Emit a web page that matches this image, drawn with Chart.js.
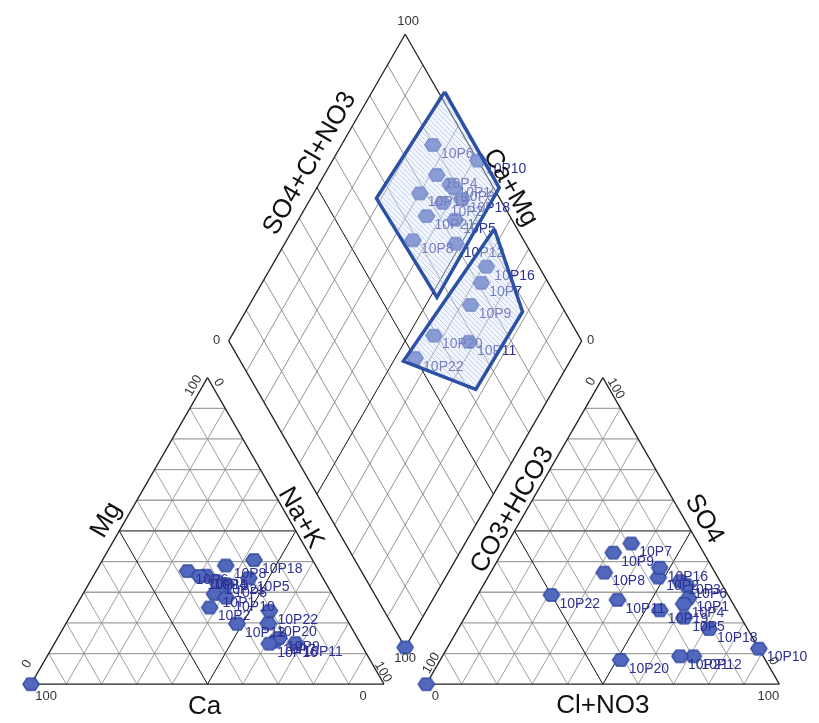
<!DOCTYPE html>
<html>
<head>
<meta charset="utf-8">
<script src="https://cdn.jsdelivr.net/npm/chart.js@4.4.1/dist/chart.umd.min.js"></script>
<style>
  html, body { margin: 0; padding: 0; background: #fff; }
  #wrap { width: 819px; height: 723px; }
</style>
</head>
<body>
<div id="wrap"><canvas id="piper"></canvas></div>
<script>
// samples (the last one is an empty analysis that ends up in the corners)
const sampleNames = ['10P1', '10P2', '10P3', '10P4', '10P5', '10P6', '10P7', '10P8', '10P9', '10P10',
                     '10P11', '10P12', '10P16', '10P18', '10P19', '10P20', '10P21', '10P22', ''];
// cations, % meq
const caPct  = [33.3, 36.9, 28.4, 32.7, 21.0, 37.2, 24.0, 25.5, 22.2, 30.6, 18.4, 31.8, 25.9, 16.6, 34.6, 22.9, 30.7, 20.5, 0];
const mgPct  = [29.4, 25.0, 32.6, 35.4, 34.6, 36.9, 13.9, 38.7, 15.1, 28.2, 13.4, 19.7, 13.2, 40.5, 35.3, 19.8, 33.6, 23.9, 0];
const naKPct = [37.3, 38.1, 39.0, 31.9, 44.4, 25.9, 62.1, 35.8, 62.7, 41.2, 68.2, 48.5, 60.9, 42.9, 30.1, 57.3, 35.7, 55.6, 0];
// anions, % meq
const hco3Pct = [11.7, 16.9, 11.3, 14.0, 16.1, 10.2, 19.0, 31.4, 25.6, 0.0, 32.1, 19.8, 14.9, 10.9, 21.8, 41.0, 23.6, 50.0, 0];
const so4Pct  = [28.1, 34.8, 33.6, 26.2, 21.7, 32.3, 45.9, 36.4, 42.9, 11.6, 27.5, 9.1, 38.0, 18.0, 24.1, 7.9, 9.1, 29.1, 0];
const clPct   = [60.2, 48.3, 55.1, 59.8, 62.2, 57.5, 35.1, 32.2, 31.5, 88.4, 40.4, 71.1, 47.1, 71.1, 54.1, 51.1, 67.3, 20.9, 0];

// group outlines in the diamond (Ca+Mg %, SO4+Cl+NO3 %)
const groupACaMg  = [79.4, 48.3, 48.1, 81.4];
const groupASo4Cl = [101.8, 101.6, 66.1, 65.1];
const groupBCaMg  = [43.0, 21.5, 22.1, 47.2];
const groupBSo4Cl = [93.5, 88.0, 62.1, 46.2];

const tickLabels = ['0', '100'];
const axisTitles = ['Ca', 'Mg', 'Na+K', 'Cl+NO3', 'CO3+HCO3', 'SO4', 'SO4+Cl+NO3', 'Ca+Mg'];

const H = Math.sqrt(3) / 2;
const GAP = 12;

function cationXY(i) {
    return { x: naKPct[i] + mgPct[i] / 2, y: mgPct[i] * H };
}
function anionXY(i) {
    return { x: 100 + GAP + clPct[i] + so4Pct[i] / 2, y: so4Pct[i] * H };
}
function diamondXY(caMg, so4Cl) {
    const q = caMg / 100, p = so4Cl / 100;
    return { x: 100 + GAP / 2 + 50 * (p - q), y: GAP * H + 100 * H * (q + p) };
}

const cationPts = sampleNames.map((n, i) => cationXY(i));
const anionPts = sampleNames.map((n, i) => anionXY(i));
const diamondPts = sampleNames.map((n, i) => diamondXY(caPct[i] + mgPct[i], so4Pct[i] + clPct[i]));

function outline(caMg, so4Cl) {
    const pts = caMg.map((v, i) => diamondXY(v, so4Cl[i]));
    pts.push(pts[0]);
    return pts;
}

function makeHex() {
    const c = document.createElement('canvas');
    c.width = 20; c.height = 18;
    const g = c.getContext('2d');
    const r = 8.2;
    g.beginPath();
    for (let k = 0; k < 6; k++) {
        const a = Math.PI / 3 * k;
        const px = 10 + r * Math.cos(a);
        const py = 9 + r * 0.85 * Math.sin(a);
        if (k == 0) g.moveTo(px, py); else g.lineTo(px, py);
    }
    g.closePath();
    g.fillStyle = 'rgb(82,104,188)';
    g.fill();
    g.lineWidth = 1.2;
    g.strokeStyle = 'rgb(40,66,160)';
    g.stroke();
    return c;
}

function makeHatch() {
    const c = document.createElement('canvas');
    c.width = 5; c.height = 5;
    const g = c.getContext('2d');
    g.fillStyle = 'rgba(226,236,250,0.4)';
    g.fillRect(0, 0, 5, 5);
    g.strokeStyle = 'rgba(120,160,220,0.5)';
    g.lineWidth = 0.8;
    g.beginPath(); g.moveTo(0, 0); g.lineTo(5, 5); g.stroke();
    return g.createPattern(c, 'repeat');
}

const hexImg = makeHex();
const hatch = makeHatch();

const FONT = '"Liberation Sans", Arial, sans-serif';

const piperGrid = {
    id: 'piperGrid',
    beforeDatasetsDraw(chart) {
        const ctx = chart.ctx;
        const xs = chart.scales.x, ys = chart.scales.y;
        const P = (x, y) => [xs.getPixelForValue(x), ys.getPixelForValue(y)];
        function seg(a, b, color, w) {
            const p1 = P(a[0], a[1]), p2 = P(b[0], b[1]);
            ctx.beginPath();
            ctx.moveTo(p1[0], p1[1]);
            ctx.lineTo(p2[0], p2[1]);
            ctx.strokeStyle = color;
            ctx.lineWidth = w;
            ctx.stroke();
        }
        ctx.save();
        // the two triangles
        [0, 100 + GAP].forEach(ox => {
            for (let t = 10; t < 100; t += 10) {
                const major = t == 50;
                seg([ox + t / 2, t * H], [ox + 100 - t / 2, t * H], major ? '#111' : '#a0a0a0', major ? 1 : 1.3);
                seg([ox + t, 0], [ox + 50 + t / 2, (100 - t) * H], major ? '#111' : '#888', major ? 1 : 0.8);
                seg([ox + t, 0], [ox + t / 2, t * H], major ? '#111' : '#888', major ? 1 : 0.8);
            }
            seg([ox, 0], [ox + 100, 0], '#222', 1.3);
            seg([ox, 0], [ox + 50, 100 * H], '#222', 1.3);
            seg([ox + 100, 0], [ox + 50, 100 * H], '#222', 1.3);
        });
        // the diamond
        const B = [100 + GAP / 2, GAP * H];
        const dl = [-50, 100 * H], dr = [50, 100 * H];
        for (let t = 0.1; t < 0.95; t += 0.1) {
            const major = Math.abs(t - 0.5) < 0.01;
            const col = major ? '#111' : '#777';
            const w = major ? 1 : 0.8;
            seg([B[0] + t * dr[0], B[1] + t * dr[1]], [B[0] + t * dr[0] + dl[0], B[1] + t * dr[1] + dl[1]], col, w);
            seg([B[0] + t * dl[0], B[1] + t * dl[1]], [B[0] + t * dl[0] + dr[0], B[1] + t * dl[1] + dr[1]], col, w);
        }
        const L = [B[0] + dl[0], B[1] + dl[1]], R = [B[0] + dr[0], B[1] + dr[1]];
        const T = [B[0] + dl[0] + dr[0], B[1] + dl[1] + dr[1]];
        seg(B, L, '#222', 1.3); seg(B, R, '#222', 1.3);
        seg(L, T, '#222', 1.3); seg(R, T, '#222', 1.3);
        ctx.restore();
    },
    beforeDatasetDraw(chart, args) {
        // hatched fill under the group outline
        const ds = chart.data.datasets[args.index];
        if (!ds.hull) return;
        const pts = args.meta.data;
        const ctx = chart.ctx;
        ctx.save();
        ctx.beginPath();
        pts.forEach((p, k) => k == 0 ? ctx.moveTo(p.x, p.y) : ctx.lineTo(p.x, p.y));
        ctx.closePath();
        ctx.fillStyle = hatch;
        ctx.fill();
        ctx.restore();
    },
    afterDatasetDraw(chart, args) {
        const ds = chart.data.datasets[args.index];
        if (!ds.pointNames) return;
        const ctx = chart.ctx;
        ctx.save();
        ctx.font = '14px ' + FONT;
        ctx.fillStyle = '#2e3192';
        ctx.textAlign = 'left';
        ctx.textBaseline = 'middle';
        args.meta.data.forEach((p, k) => {
            if (ds.pointNames[k]) ctx.fillText(ds.pointNames[k], p.x + 8, p.y + 9);
        });
        ctx.restore();
    },
    afterDatasetsDraw(chart) {
        const ctx = chart.ctx;
        const xs = chart.scales.x, ys = chart.scales.y;
        function text(str, ux, uy, dx, dy, rot, size) {
            ctx.save();
            ctx.translate(xs.getPixelForValue(ux) + dx, ys.getPixelForValue(uy) + dy);
            ctx.rotate(rot * Math.PI / 180);
            ctx.font = size + 'px ' + FONT;
            ctx.fillStyle = size > 20 ? '#111' : '#333';
            ctx.textAlign = 'center';
            ctx.textBaseline = 'middle';
            ctx.fillText(str, 0, 0);
            ctx.restore();
        }
        const [t0, t100] = tickLabels;
        const ap = 100 * H;
        const ro = 100 + GAP;
        // left triangle ticks
        text(t0, 0, 0, -4, -20, -60, 13);
        text(t100, 0, 0, 15, 12, 0, 13);
        text(t100, 50, ap, -14, 8, -60, 13);
        text(t0, 50, ap, 11, 5, 60, 13);
        text(t0, 100, 0, -21, 12, 0, 13);
        text(t100, 100, 0, -1, -12, 60, 13);
        // right triangle ticks
        text(t100, ro, 0, 5, -21, -60, 13);
        text(t0, ro, 0, 9, 12, 0, 13);
        text(t0, ro + 50, ap, -12, 4, -60, 13);
        text(t100, ro + 50, ap, 13, 11, 60, 13);
        text(t100, ro + 100, 0, -11, 12, 0, 13);
        text(t0, ro + 100, 0, -6, -23, 60, 13);
        // diamond ticks
        const bx = 100 + GAP / 2;
        text(t100, bx, GAP * H + 200 * H, 3, -13, 0, 13);
        text(t0, bx - 50, GAP * H + 100 * H, -12, 0, 0, 13);
        text(t0, bx + 50, GAP * H + 100 * H, 9, 0, 0, 13);
        text(t100, bx, GAP * H, 0, 11, 0, 13);
        // axis titles
        const [ca, mg, nak, cl, hco3, so4, so4cl, camg] = axisTitles;
        text(ca, 50, 0, -3, 23, 0, 26);
        text(mg, 25, 50 * H, -13, -11, -60, 26);
        text(nak, 75, 50 * H, 5, -13, 60, 26);
        text(cl, ro + 50, 0, 0, 22, 0, 26);
        text(hco3, ro + 25, 50 * H, -2, -21, -60, 26);
        text(so4, ro + 75, 50 * H, 13, -12, 60, 26);
        text(so4cl, bx - 25, GAP * H + 150 * H, -7, -24, -60, 26);
        text(camg, bx + 25, GAP * H + 150 * H, 17, 0, 60, 26);
    }
};

function markerSet(pts, order) {
    return {
        data: pts,
        pointStyle: hexImg,
        pointRadius: 7,
        pointHoverRadius: 7,
        pointNames: sampleNames,
        showLine: false,
        order: order
    };
}

function hullSet(pts) {
    return {
        type: 'line',
        data: pts,
        hull: true,
        borderColor: '#2b50a6',
        borderWidth: 3.5,
        borderJoinStyle: 'miter',
        pointRadius: 0,
        pointHoverRadius: 0,
        tension: 0,
        fill: false,
        order: 0
    };
}

new Chart(document.getElementById('piper'), {
    type: 'scatter',
    data: {
        datasets: [
            markerSet(cationPts, 1),
            markerSet(anionPts, 1),
            markerSet(diamondPts, 2),
            hullSet(outline(groupACaMg, groupASo4Cl)),
            hullSet(outline(groupBCaMg, groupBSo4Cl))
        ]
    },
    options: {
        responsive: true,
        maintainAspectRatio: false,
        animation: false,
        layout: { padding: 0 },
        plugins: {
            legend: { display: false },
            tooltip: { enabled: false }
        },
        scales: {
            x: { type: 'linear', display: false, min: -23.5 / 3.6, max: (819 - 23.5) / 3.6 },
            y: { type: 'linear', display: false, min: -31.5 / 3.62, max: 691.5 / 3.62 }
        }
    },
    plugins: [piperGrid]
});
</script>
</body>
</html>
